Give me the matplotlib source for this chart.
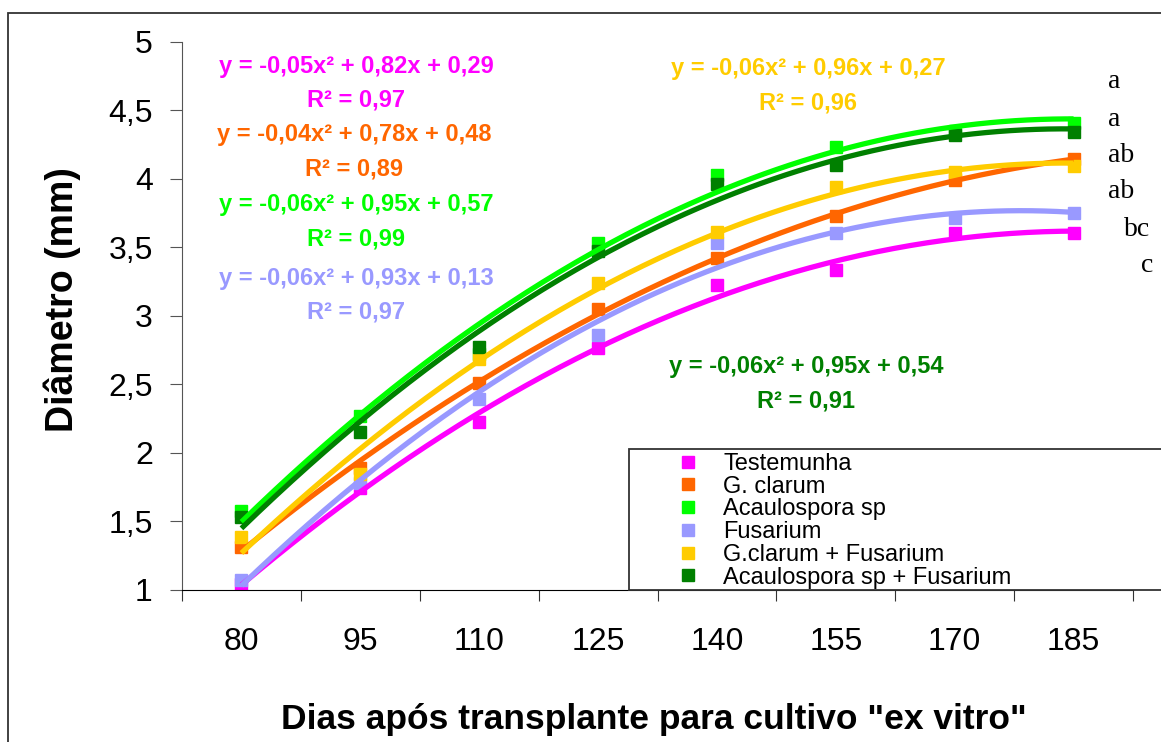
import numpy as np
import matplotlib.pyplot as plt
from matplotlib.lines import Line2D
from matplotlib.patches import Rectangle

plt.rcParams['font.family'] = ['Liberation Sans', 'DejaVu Sans']

W, H = 1161, 742

# ---- Dados ----
dias = [80, 95, 110, 125, 140, 155, 170, 185]
testemunha = [1.04, 1.74, 2.22, 2.76, 3.22, 3.33, 3.60, 3.60]
g_clarum = [1.31, 1.89, 2.51, 3.05, 3.42, 3.73, 3.99, 4.14]
acaulospora = [1.57, 2.27, 2.72, 3.53, 4.03, 4.23, 4.35, 4.41]
fusarium = [1.07, 1.78, 2.39, 2.86, 3.53, 3.60, 3.71, 3.75]
g_clarum_fus = [1.38, 1.84, 2.68, 3.24, 3.61, 3.94, 4.05, 4.09]
acaulo_fus = [1.53, 2.15, 2.77, 3.47, 3.96, 4.10, 4.32, 4.34]

nomes = ["Testemunha", "G. clarum", "Acaulospora sp", "Fusarium",
         "G.clarum + Fusarium", "Acaulospora sp + Fusarium"]
series = [testemunha, g_clarum, acaulospora, fusarium, g_clarum_fus, acaulo_fus]
cores = ["#FF00FF", "#FF6600", "#00FF00", "#9999FF", "#FFCC00", "#008000"]

equacoes = ["y = -0,05x² + 0,82x + 0,29", "y = -0,04x² + 0,78x + 0,48",
            "y = -0,06x² + 0,95x + 0,57", "y = -0,06x² + 0,93x + 0,13",
            "y = -0,06x² + 0,96x + 0,27", "y = -0,06x² + 0,95x + 0,54"]
r2 = ["R² = 0,97", "R² = 0,89", "R² = 0,99", "R² = 0,97", "R² = 0,96", "R² = 0,91"]
letras = ["a", "a", "ab", "ab", "bc", "c"]

# posicoes (pixels) dos textos
eq_pos = [(356, 66), (354, 135), (356, 205), (356, 278), (808, 69), (806, 367)]
letra_pos = [(1108, 82), (1108, 119), (1108, 155), (1108, 192), (1124, 229), (1141, 266)]


def px(x, y):
    return x / W, 1 - y / H


fig = plt.figure(figsize=(W / 100, H / 100), dpi=100)
ax = fig.add_axes([182 / W, 152.5 / H, (1133 - 182) / W, (700.3 - 152.5) / H])

# moldura externa
fig.patches.append(Rectangle(px(8, 760), 1.2, (760 - 13) / H, transform=fig.transFigure,
                             fill=False, edgecolor="#333333", linewidth=1.3))

x = np.arange(len(dias))
xs = np.linspace(0, len(dias) - 1, 200)

for vals, cor in zip(series, cores):
    ax.plot(x, vals, linestyle="none", marker="s", markersize=8.5, color=cor, zorder=2)
for vals, cor in zip(series, cores):
    coef = np.polyfit(x, vals, 2)
    ax.plot(xs, np.polyval(coef, xs), color=cor, linewidth=3.8, zorder=3,
            solid_capstyle="butt")

ax.set_xlim(-0.5, len(dias) - 0.5)
ax.set_ylim(1, 5)
ax.spines["top"].set_visible(False)
ax.spines["right"].set_visible(False)
ax.spines["left"].set_color("#555555")
ax.spines["bottom"].set_color("black")

ax.set_xticks(np.arange(-0.5, len(dias), 1))
ax.set_xticklabels([])
ax.set_xticks(x, minor=True)
ax.set_xticklabels([str(d) for d in dias], minor=True)
ax.tick_params(axis="x", which="major", length=8, direction="out", color="#333333")
ax.tick_params(axis="x", which="minor", length=0, pad=27, labelsize=23)

yt = np.arange(1, 5.01, 0.5)
ax.set_yticks(yt)
ax.set_yticklabels([f"{v:g}".replace(".", ",") for v in yt])
ax.tick_params(axis="y", length=9, direction="out", color="#555555", labelsize=23, pad=12)

fig.text(*px(62, 300), "Diâmetro (mm)", rotation=90, ha="center", va="center",
         fontsize=27, fontweight="bold")
fig.text(*px(654, 719), 'Dias após transplante para cultivo "ex vitro"', ha="center",
         va="center", fontsize=25.5, fontweight="bold")

for (ex, ey), eq, r, cor in zip(eq_pos, equacoes, r2, cores):
    fig.text(*px(ex, ey), eq, ha="center", va="center", fontsize=17,
             fontweight="bold", color=cor)
    fig.text(*px(ex, ey + 34), r, ha="center", va="center", fontsize=17,
             fontweight="bold", color=cor)

for (lx, ly), l in zip(letra_pos, letras):
    fig.text(*px(lx, ly), l, ha="left", va="center", fontsize=20,
             family="Liberation Serif")

# legenda
handles = [Line2D([], [], linestyle="none", marker="s", markersize=8, color=c)
           for c in cores]
fig.patches.append(Rectangle(px(629, 590), 1.0, (590 - 449) / H, transform=fig.transFigure,
                             fill=True, facecolor="white", edgecolor="#333333",
                             linewidth=1.3, zorder=4))
leg = fig.legend(handles, nomes, loc="upper left", bbox_to_anchor=px(676, 453),
                 frameon=False, fontsize=17, handlelength=1.0, handletextpad=1.0,
                 labelspacing=0.03, borderpad=0, borderaxespad=0)
leg.set_zorder(5)

fig.savefig("out.png", dpi=100)
